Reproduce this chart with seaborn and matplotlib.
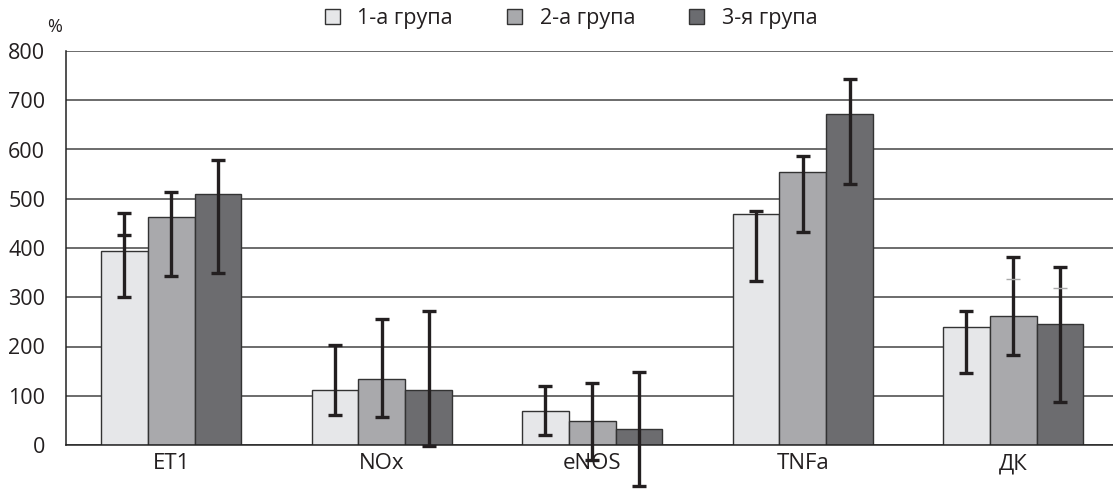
"""
Grouped bar chart with asymmetric error bars (three groups, five markers).
"""

import matplotlib
matplotlib.use("Agg")
import matplotlib.pyplot as plt
import numpy as np
import pandas as pd
import seaborn as sns

# ── data ──
categories = ["ET1", "NOx", "eNOS", "TNFa", "ДК"]
groups = ["1-а група", "2-а група", "3-я група"]

g1_vals = [394, 111, 70, 469, 240]
g2_vals = [463, 134, 48, 554, 262]
g3_vals = [509, 112, 32, 672, 246]

# error bar ends (absolute values)
g1_low = [300, 61, 20, 332, 147]
g1_high = [471, 204, 120, 475, 272]
g2_low = [343, 56, -31, 433, 183]
g2_high = [514, 256, 125, 587, 382]
g3_low = [349, -3, -83, 530, 87]
g3_high = [579, 272, 148, 743, 361]

# stray cap marks inside some error bars
g1_mid = [426, np.nan, np.nan, np.nan, np.nan]
g2_mid = [np.nan, np.nan, np.nan, np.nan, 338]
g3_mid = [np.nan, np.nan, np.nan, np.nan, 318]

colors = ["#e6e7e9", "#a8a9ac", "#6b6c70"]
FONT = ["Open Sans", "DejaVu Sans"]

df = pd.DataFrame({
    "cat": categories * 3,
    "group": np.repeat(groups, len(categories)),
    "value": g1_vals + g2_vals + g3_vals,
})
lows = [g1_low, g2_low, g3_low]
highs = [g1_high, g2_high, g3_high]
mids = [g1_mid, g2_mid, g3_mid]
vals = [g1_vals, g2_vals, g3_vals]

sns.set_style("white")
plt.rcParams["font.family"] = FONT

fig = plt.figure(figsize=(11.13, 4.9), dpi=100)
ax = fig.add_axes([66 / 1113, 45 / 490, 1052.5 / 1113, 394 / 490])

sns.barplot(
    data=df, x="cat", y="value", hue="group", hue_order=groups,
    palette=colors, width=2 / 3, gap=0, errorbar=None,
    edgecolor="#333333", linewidth=1, ax=ax, zorder=2, legend=True,
)

bar_conts = list(ax.containers)
for i, cont in enumerate(bar_conts):
    xs = np.array([b.get_x() + b.get_width() / 2 for b in cont.patches])
    v = np.array(vals[i], dtype=float)
    yerr = [v - np.array(lows[i]), np.array(highs[i]) - v]
    ax.errorbar(xs, v, yerr=yerr, fmt="none", ecolor="#231f20",
                elinewidth=2.4, capsize=5, capthick=2.4, zorder=3,
                clip_on=False)
    m = np.array(mids[i], dtype=float)
    mcol = "#231f20" if i == 0 else "#aaaaaa"
    ax.plot(xs, m, linestyle="none", marker="_", markersize=10,
            markeredgewidth=2.4 if i == 0 else 1, color=mcol, zorder=3)

ax.set_xlim(-0.5, 4.5)
ax.set_ylim(0, 800)
ax.set_yticks(np.arange(0, 801, 100))
ax.yaxis.grid(True, color="#444444", linewidth=1.1)
ax.set_axisbelow(True)
ax.set_xlabel("")
ax.set_ylabel("")
for s in ["top", "right"]:
    ax.spines[s].set_visible(False)
ax.spines["left"].set_color("#222222")
ax.spines["bottom"].set_color("#222222")
ax.spines["left"].set_linewidth(1.1)
ax.spines["bottom"].set_linewidth(1.1)

ax.tick_params(axis="y", length=7, width=1.1, color="#222222", pad=8,
               labelsize=15.5, labelcolor="#231f20")
ax.tick_params(axis="x", which="major", length=0, pad=6,
               labelsize=16, labelcolor="#231f20")
ax.set_xticks(np.arange(-0.5, 5, 1), minor=True)
ax.tick_params(axis="x", which="minor", length=5, width=1.1, color="#222222")

ax.legend_.remove()
handles = [plt.Rectangle((0, 0), 1, 1, facecolor=c, edgecolor="#333333", linewidth=1)
           for c in colors]
fig.legend(handles, groups, loc="center", bbox_to_anchor=(0.513, 0.962),
           ncol=3, frameon=False, fontsize=15.5, handlelength=0.72,
           handleheight=0.72, handletextpad=0.8, columnspacing=2.5,
           labelcolor="#231f20")

fig.text(0.049, 0.945, "%", ha="center", va="center", fontsize=13,
         color="#231f20")

fig.savefig("out.png", dpi=100)
plt.close(fig)
